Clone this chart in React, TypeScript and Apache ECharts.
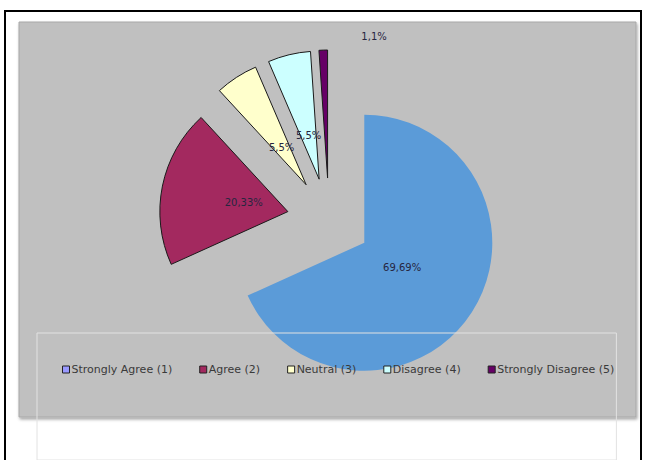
import React, { useEffect, useRef } from "react";
import * as echarts from "echarts";

const categories = [
  "Strongly Agree (1)",
  "Agree (2)",
  "Neutral (3)",
  "Disagree (4)",
  "Strongly Disagree (5)",
];
const values = [69.69, 20.33, 5.5, 5.5, 1.1];
const colors = ["#5b9bd8", "#a3295f", "#ffffcc", "#ccffff", "#660066"];
const legendColors = ["#9999ff", "#a3295f", "#ffffcc", "#ccffff", "#660066"];

const fmt = (v: number) => String(v).replace(".", ",") + "%";

export default function App() {
  const ref = useRef<HTMLDivElement>(null);
  useEffect(() => {
    if (!ref.current) return;
    const chart = echarts.init(ref.current, null, { renderer: "svg" });
    const center = [329, 220];
    const offset = 42;
    chart.setOption({
      animation: false,
      backgroundColor: "#ffffff",
      graphic: [
        {
          type: "rect",
          shape: { x: 5, y: 11, width: 636, height: 480 },
          style: { fill: "none", stroke: "#000", lineWidth: 2 },
          z: -10,
          silent: true,
        },
        {
          type: "rect",
          shape: { x: 19, y: 22, width: 617, height: 395 },
          style: {
            fill: "#c0c0c0",
            stroke: "#a8a8a8",
            lineWidth: 1,
            shadowBlur: 3,
            shadowOffsetX: 1,
            shadowOffsetY: 2,
            shadowColor: "rgba(0,0,0,0.35)",
          },
          z: -9,
          silent: true,
        },
      ],
      legend: {
        left: 37,
        top: 333,
        padding: [31, 2, 85, 25],
        borderColor: "#e2e2e2",
        borderWidth: 1,
        itemWidth: 7,
        itemHeight: 7,
        itemGap: 27,
        icon: "rect",
        selectedMode: false,
        itemStyle: { borderColor: "#222", borderWidth: 1 },
        textStyle: { fontFamily: "DejaVu Sans", fontSize: 11, color: "#3a3a3a", padding: [0, 0, 0, -3] },
        data: categories.map((c, i) => ({ name: c, itemStyle: { color: legendColors[i] } })),
      },
      series: [
        {
          type: "pie",
          center,
          radius: [0, 128],
          startAngle: 90,
          clockwise: true,
          selectedMode: "multiple",
          selectedOffset: offset,
          silent: true,
          label: { show: false },
          labelLine: { show: false },
          emphasis: { disabled: true },
          data: categories.map((c, i) => ({
            name: c,
            value: values[i],
            selected: true,
            itemStyle: {
              color: colors[i],
              borderColor: i === 0 ? "transparent" : "#1a1a1a",
              borderWidth: i === 0 ? 0 : 1,
            },
          })),
        },
        {
          type: "pie",
          center,
          radius: [0, 84],
          startAngle: 90,
          clockwise: true,
          selectedMode: "multiple",
          selectedOffset: offset,
          silent: true,
          legendHoverLink: false,
          emphasis: { disabled: true },
          itemStyle: { color: "transparent", borderWidth: 0 },
          labelLine: { show: false },
          label: {
            show: true,
            position: "inside",
            fontFamily: "DejaVu Sans",
            fontSize: 10,
            color: "#262640",
            formatter: (p: any) => fmt(p.value),
          },
          labelLayout: (p: any) => (p.dataIndex === 4 ? { dx: 48, dy: -97 } : {}),
          data: categories.map((c, i) => ({
            name: c,
            value: values[i],
            selected: true,
            itemStyle: { color: "transparent" },
          })),
        },
      ],
    });
    return () => chart.dispose();
  }, []);
  return (
    <div
      ref={ref}
      style={{ position: "fixed", left: 0, top: 0, width: 646, height: 460 }}
    />
  );
}
